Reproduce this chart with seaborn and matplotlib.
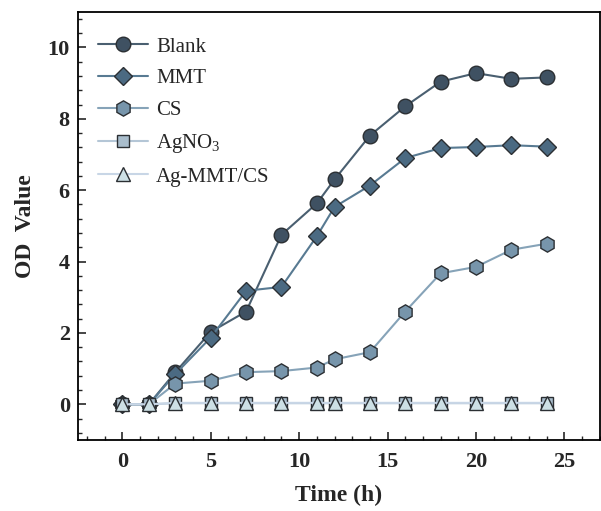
import matplotlib
matplotlib.use("Agg")
import matplotlib.pyplot as plt
import seaborn as sns
from matplotlib.ticker import MultipleLocator

time_h = [0, 1.5, 3, 5, 7, 9, 11, 12, 14, 16, 18, 20, 22, 24]
blank = [0, 0, 0.9, 2.03, 2.6, 4.75, 5.63, 6.3, 7.53, 8.35, 9.04, 9.28, 9.12, 9.16]
mmt = [0, 0, 0.85, 1.87, 3.18, 3.29, 4.71, 5.53, 6.13, 6.9, 7.18, 7.21, 7.26, 7.22]
cs = [0, 0, 0.58, 0.66, 0.9, 0.93, 1.03, 1.26, 1.46, 2.6, 3.67, 3.85, 4.33, 4.5]
agno3 = [0, 0, 0.03, 0.03, 0.03, 0.03, 0.03, 0.03, 0.03, 0.03, 0.03, 0.03, 0.03, 0.03]
ag_mmt_cs = [0, 0, 0.04, 0.04, 0.04, 0.04, 0.04, 0.04, 0.04, 0.04, 0.04, 0.04, 0.04, 0.04]

names = ["Blank", "MMT", "CS", "AgNO$_3$", "Ag-MMT/CS"]
values = [blank, mmt, cs, agno3, ag_mmt_cs]
markers = ["o", "D", "h", "s", "^"]
sizes = [10.5, 9, 11, 8, 10]
face_colors = ["#3f5162", "#4b6a82", "#7795ab", "#a9bdcc", "#cde0e5"]
line_colors = ["#4a5f70", "#587a92", "#86a3b8", "#b4c6d6", "#c8d6e6"]

sns.set_style("ticks")
plt.rcParams["font.family"] = ["Liberation Serif", "DejaVu Serif"]
plt.rcParams["mathtext.fontset"] = "custom"
plt.rcParams["mathtext.rm"] = "Liberation Serif"

fig = plt.figure(figsize=(6.01, 5.11), dpi=100)
ax = fig.add_axes([0.130, 0.139, 0.868, 0.838])

for name, vals, m, ms, fc, lc in zip(names, values, markers, sizes, face_colors, line_colors):
    sns.lineplot(x=time_h, y=vals, ax=ax, color=lc, linewidth=1.5, marker=m,
                 markersize=ms, markerfacecolor=fc, markeredgecolor="#2b2f33",
                 markeredgewidth=1.0, label=name)

ax.set_xlim(-2.5, 27)
ax.set_ylim(-1, 11)
ax.xaxis.set_major_locator(MultipleLocator(5))
ax.xaxis.set_minor_locator(MultipleLocator(1))
ax.yaxis.set_major_locator(MultipleLocator(2))
ax.yaxis.set_minor_locator(MultipleLocator(0.4))
ax.tick_params(which="major", direction="in", length=6, width=1.2, labelsize=16)
ax.tick_params(axis="x", which="major", pad=9)
ax.tick_params(axis="y", which="major", pad=6)
ax.tick_params(which="minor", direction="in", length=3, width=1.0)
for lab in ax.get_xticklabels() + ax.get_yticklabels():
    lab.set_fontweight("bold")
for s in ax.spines.values():
    s.set_linewidth(1.3)
    s.set_color("black")

ax.set_xlabel("Time (h)", fontsize=17, fontweight="bold", labelpad=9)
ax.set_ylabel("OD  Value", fontsize=17, fontweight="bold", labelpad=8)

ax.legend(loc="upper left", bbox_to_anchor=(0.01, 0.975), frameon=False,
          fontsize=15, handlelength=2.4, handletextpad=0.4, labelspacing=0.58,
          borderaxespad=0.3)

fig.savefig("out.png", dpi=100)
